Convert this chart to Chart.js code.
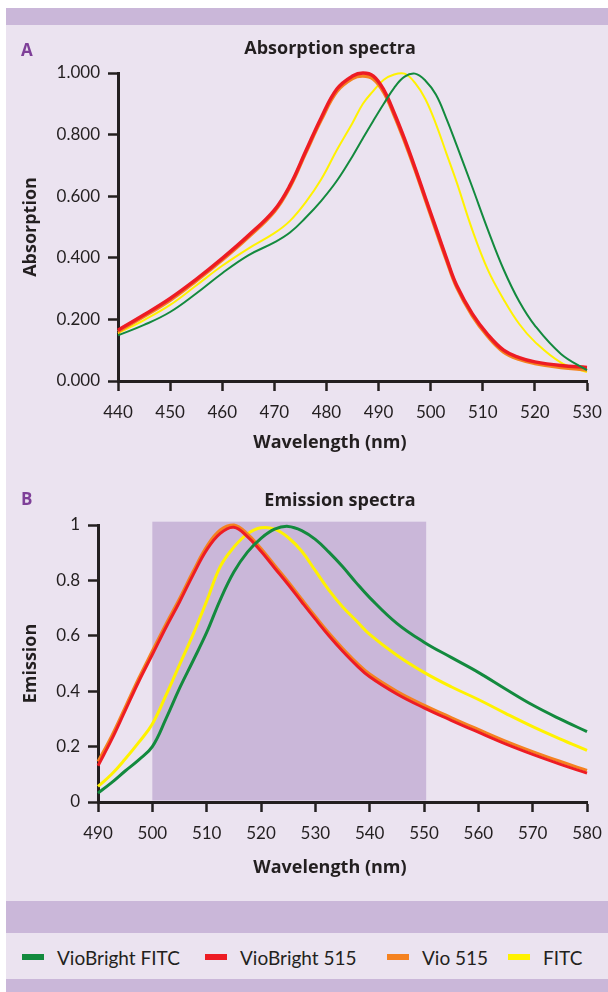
<!DOCTYPE html>
<html>
<head>
<meta charset="utf-8">
<script src="https://cdn.jsdelivr.net/npm/chart.js@4.4.1/dist/chart.umd.min.js"></script>
<style>
  body { margin: 0; background: #ffffff; font-family: Lato, "Open Sans", sans-serif; color: #231f20; }
  #fig { position: absolute; left: 6px; top: 8px; width: 602px; height: 984px; background: #ebe3f0; }
  .band { position: absolute; left: 6px; width: 602px; background: #cab7d9; }
  canvas { position: absolute; left: 0; }
  .panel { position: absolute; left: 21px; font-family: "Open Sans", sans-serif; font-weight: bold; font-size: 17px; line-height: 18px; color: #7e3f98; }
  .title { position: absolute; font-family: "Open Sans", sans-serif; font-weight: bold; font-size: 18px; line-height: 20px; white-space: nowrap; transform: translateX(-50%); }
  .item { position: absolute; top: 945px; height: 24px; display: flex; align-items: center; font-size: 19px; white-space: nowrap; }
  .sw { width: 22px; height: 6px; margin-right: 13px; }
</style>
</head>
<body>
<div id="fig"></div>
<div class="band" style="top:8px;height:17px"></div>
<div class="band" style="top:901px;height:32px"></div>
<div class="band" style="top:979px;height:13px"></div>

<canvas id="absChart" width="608" height="460" style="top:0"></canvas>
<canvas id="emChart" width="608" height="440" style="top:460px"></canvas>

<div class="panel" style="top:41px">A</div>
<div class="title" style="left:330px;top:37px">Absorption spectra</div>
<div class="title" style="left:330px;top:431px">Wavelength (nm)</div>
<div class="panel" style="top:490px">B</div>
<div class="title" style="left:340px;top:489px">Emission spectra</div>
<div class="title" style="left:330px;top:856px">Wavelength (nm)</div>

<script>
// series names + colours (legend order)
const seriesNames = ['VioBright FITC', 'VioBright 515', 'Vio 515', 'FITC'];
const seriesColors = ['#138a3e', '#ed1c24', '#f58220', '#fff200'];

// absorption spectra
const absWavelength = [440, 445, 450, 455, 460, 465, 470, 473, 476, 479, 482, 485, 487, 489, 491, 493, 495, 497, 499, 501, 503, 505, 508, 511, 514, 517, 520, 525, 530];
const absVioBrightFITC = [0.148, 0.182, 0.224, 0.284, 0.350, 0.408, 0.450, 0.482, 0.530, 0.585, 0.650, 0.730, 0.788, 0.845, 0.900, 0.952, 0.988, 0.998, 0.975, 0.930, 0.853, 0.765, 0.629, 0.490, 0.362, 0.258, 0.180, 0.088, 0.035];
const absVioBright515 = [0.165, 0.215, 0.268, 0.330, 0.398, 0.472, 0.555, 0.635, 0.745, 0.855, 0.948, 0.990, 1.000, 0.990, 0.945, 0.870, 0.785, 0.692, 0.594, 0.497, 0.400, 0.310, 0.218, 0.150, 0.100, 0.076, 0.062, 0.050, 0.044];
const absVio515 = [0.160, 0.210, 0.262, 0.325, 0.393, 0.467, 0.550, 0.630, 0.740, 0.848, 0.940, 0.982, 0.990, 0.980, 0.937, 0.863, 0.778, 0.686, 0.588, 0.490, 0.394, 0.304, 0.212, 0.144, 0.094, 0.070, 0.057, 0.044, 0.036];
const absFITC = [0.155, 0.198, 0.247, 0.310, 0.374, 0.430, 0.480, 0.520, 0.580, 0.655, 0.750, 0.838, 0.900, 0.942, 0.978, 0.995, 0.998, 0.968, 0.915, 0.835, 0.740, 0.645, 0.490, 0.360, 0.265, 0.185, 0.127, 0.060, 0.029];
const absXTicks = [440, 450, 460, 470, 480, 490, 500, 510, 520, 530];
const absYTickLabels = ['0.000', '0.200', '0.400', '0.600', '0.800', '1.000'];

// emission spectra
const emWavelength = [490, 492.5, 495, 497.5, 500, 502.5, 505, 507.5, 510, 512.5, 515, 517.5, 520, 522.5, 525, 527.5, 530, 532.5, 535, 537.5, 540, 545, 550, 555, 560, 565, 570, 575, 580];
const emVioBrightFITC = [0.032, 0.070, 0.112, 0.152, 0.200, 0.300, 0.410, 0.510, 0.612, 0.730, 0.830, 0.902, 0.952, 0.985, 0.995, 0.980, 0.948, 0.902, 0.850, 0.792, 0.738, 0.645, 0.577, 0.522, 0.468, 0.408, 0.350, 0.300, 0.254];
const emVioBright515 = [0.131, 0.225, 0.330, 0.435, 0.532, 0.630, 0.722, 0.820, 0.910, 0.970, 0.992, 0.958, 0.905, 0.845, 0.785, 0.722, 0.660, 0.600, 0.545, 0.495, 0.452, 0.390, 0.340, 0.295, 0.252, 0.210, 0.172, 0.137, 0.104];
const emVio515 = [0.146, 0.238, 0.342, 0.447, 0.545, 0.642, 0.734, 0.832, 0.922, 0.982, 1.000, 0.968, 0.915, 0.855, 0.795, 0.732, 0.670, 0.610, 0.555, 0.505, 0.462, 0.400, 0.350, 0.305, 0.262, 0.220, 0.182, 0.147, 0.114];
const emFITC = [0.056, 0.100, 0.155, 0.215, 0.282, 0.385, 0.495, 0.605, 0.725, 0.850, 0.920, 0.968, 0.990, 0.985, 0.955, 0.905, 0.835, 0.765, 0.705, 0.655, 0.605, 0.530, 0.468, 0.416, 0.370, 0.320, 0.272, 0.228, 0.186];
const emXTicks = [490, 500, 510, 520, 530, 540, 550, 560, 570, 580];
const emYTickLabels = ['0', '0.2', '0.4', '0.6', '0.8', '1'];
const emShadedRange = [500, 550.4];

const ink = '#231f20';

function toPoints(xs, ys) {
  return xs.map((x, i) => ({ x: x, y: ys[i] }));
}

function makeDatasets(xs, seriesList, widths) {
  return seriesList.map((ys, i) => ({
    label: seriesNames[i],
    data: toPoints(xs, ys),
    borderColor: seriesColors[i],
    borderWidth: widths[i],
    pointRadius: 0,
    fill: false,
    tension: 0.4,
    clip: false
  }));
}

// shaded wavelength window behind the emission curves
const shadePlugin = {
  id: 'shade',
  beforeDatasetsDraw(chart) {
    if (chart.canvas.id !== 'emChart') return;
    const { ctx, scales } = chart;
    const x1 = scales.x.getPixelForValue(emShadedRange[0]);
    const x2 = scales.x.getPixelForValue(emShadedRange[1]);
    const y1 = scales.y.getPixelForValue(1.012);
    const y2 = scales.y.getPixelForValue(0) - 1.5;
    ctx.save();
    ctx.fillStyle = '#cab7d9';
    ctx.fillRect(x1, y1, x2 - x1, y2 - y1);
    ctx.restore();
  }
};

function createChart(canvasId, datasets, xTicks, yLabels, yTitle, yWidth, pad) {
  const ctx = document.getElementById(canvasId).getContext('2d');
  new Chart(ctx, {
    type: 'line',
    data: { datasets: datasets },
    plugins: [shadePlugin],
    options: {
      responsive: false,
      animation: false,
      events: [],
      layout: { padding: pad },
      plugins: { legend: { display: false }, tooltip: { enabled: false } },
      scales: {
        x: {
          type: 'linear',
          min: xTicks[0],
          max: xTicks[xTicks.length - 1],
          afterBuildTicks: s => { s.ticks = xTicks.map(v => ({ value: v })); },
          ticks: { color: ink, font: { family: 'Lato', size: 17 }, padding: 11, maxRotation: 0, callback: v => String(v) },
          grid: { drawOnChartArea: false, tickLength: 10, tickWidth: 2.5, tickColor: ink },
          border: { color: ink, width: 3 },
          afterFit: s => { s.height = 75; s.paddingLeft = 0; s.paddingRight = 0; }
        },
        y: {
          min: 0,
          max: 1,
          ticks: { stepSize: 0.2, color: ink, font: { family: 'Lato', size: 17 }, padding: 8, callback: (v, i) => yLabels[i] },
          grid: { drawOnChartArea: false, tickLength: 10, tickWidth: 2.5, tickColor: ink },
          border: { color: ink, width: 3 },
          title: { display: true, text: yTitle, color: ink, font: { family: 'Open Sans', size: 18, weight: 'bold' }, padding: { top: 14, bottom: 0 } },
          afterFit: s => { s.width = yWidth; }
        }
      }
    }
  });
}

createChart('absChart',
  makeDatasets(absWavelength, [absVioBrightFITC, absVioBright515, absVio515, absFITC], [2, 3.5, 3.5, 2]),
  absXTicks, absYTickLabels, 'Absorption', 112,
  { left: 6, right: 21, top: 73, bottom: 4 });

createChart('emChart',
  makeDatasets(emWavelength, [emVioBrightFITC, emVioBright515, emVio515, emFITC], [3, 3, 3, 3]),
  emXTicks, emYTickLabels, 'Emission', 92,
  { left: 6, right: 21, top: 65, bottom: 23 });

// legend
const legendLeft = [22, 205, 387, 508];
seriesNames.forEach((name, i) => {
  const item = document.createElement('div');
  item.className = 'item';
  item.style.left = legendLeft[i] + 'px';
  item.innerHTML = '<span class="sw" style="background:' + seriesColors[i] + '"></span><span>' + name + '</span>';
  document.body.appendChild(item);
});
</script>
</body>
</html>
